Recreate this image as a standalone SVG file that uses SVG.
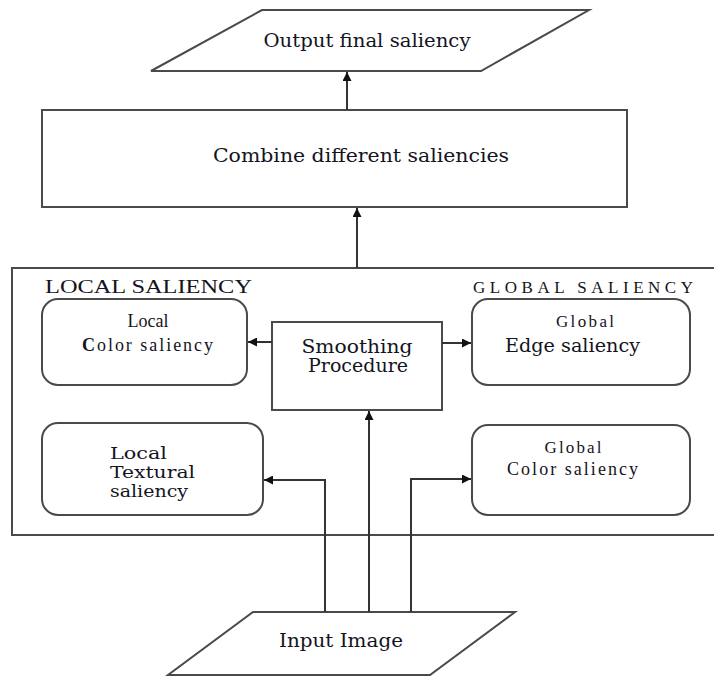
<svg xmlns="http://www.w3.org/2000/svg" width="714" height="677" viewBox="0 0 714 677">
<defs>
<style>
.s{fill:#fff;stroke:#4a4a4a;stroke-width:2}
.c{fill:none;stroke:#333;stroke-width:2}
.t{font-family:"Liberation Serif","Times New Roman",serif;fill:#14141e}
.w{font-family:"DejaVu Serif","Liberation Serif",serif;fill:#14141e}
</style>
<marker id="ah" viewBox="0 0 10 10" refX="10" refY="5" markerWidth="9" markerHeight="9" markerUnits="userSpaceOnUse" orient="auto">
<path d="M0,0 L10,5 L0,10 z" fill="#111"/>
</marker>
</defs>
<rect width="714" height="677" fill="#fff"/>
<g id="output">
<polygon class="s" points="262,10 589,10 481,71 151,71"/>
<text class="w" x="367" y="47" font-size="19" text-anchor="middle" textLength="207" lengthAdjust="spacingAndGlyphs">Output final saliency</text>
</g>
<g id="combine">
<rect class="s" x="42" y="110" width="585" height="97"/>
<text class="w" x="361" y="162" font-size="19" text-anchor="middle" textLength="296" lengthAdjust="spacingAndGlyphs">Combine different saliencies</text>
</g>
<g id="saliency-panel">
<rect class="s" x="12" y="268" width="720" height="267"/>
<text class="t" x="45" y="293" font-size="19" textLength="207" lengthAdjust="spacingAndGlyphs">LOCAL SALIENCY</text>
<text class="t" x="473" y="293" font-size="17" textLength="220" lengthAdjust="spacing">GLOBAL  SALIENCY</text>
</g>
<g id="local-color">
<rect class="s" x="42" y="299" width="205" height="86" rx="16"/>
<text class="t" x="148" y="327" font-size="18" text-anchor="middle">Local</text>
<text class="t" x="82" y="351" font-size="18" textLength="131" lengthAdjust="spacing"><tspan font-weight="bold">C</tspan>olor  saliency</text>
</g>
<g id="smoothing">
<rect class="s" x="272" y="322" width="170" height="88"/>
<text class="w" x="357" y="353" font-size="18" text-anchor="middle" textLength="111" lengthAdjust="spacingAndGlyphs">Smoothing</text>
<text class="w" x="358" y="372" font-size="18" text-anchor="middle" textLength="100" lengthAdjust="spacingAndGlyphs">Procedure</text>
</g>
<g id="global-edge">
<rect class="s" x="472" y="299" width="218" height="86" rx="16"/>
<text class="t" x="585" y="327" font-size="17" text-anchor="middle" textLength="58" lengthAdjust="spacing">Global</text>
<text class="w" x="505" y="352" font-size="19" textLength="135" lengthAdjust="spacingAndGlyphs">Edge saliency</text>
</g>
<g id="local-textural">
<rect class="s" x="42" y="423" width="221" height="92" rx="16"/>
<text class="w" x="110" y="459" font-size="16" textLength="57" lengthAdjust="spacingAndGlyphs">Local</text>
<text class="w" x="110" y="478" font-size="16" textLength="85" lengthAdjust="spacingAndGlyphs">Textural</text>
<text class="w" x="110" y="497" font-size="16" textLength="78" lengthAdjust="spacingAndGlyphs">saliency</text>
</g>
<g id="global-color">
<rect class="s" x="472" y="425" width="218" height="90" rx="16"/>
<text class="t" x="573" y="453" font-size="17" text-anchor="middle" textLength="57" lengthAdjust="spacing">Global</text>
<text class="t" x="507" y="475" font-size="18" textLength="131" lengthAdjust="spacing">Color  saliency</text>
</g>
<g id="input">
<polygon class="s" points="253,612 515,612 430,675 168,675"/>
<text class="w" x="341" y="647" font-size="19" text-anchor="middle" textLength="124" lengthAdjust="spacingAndGlyphs">Input Image</text>
</g>
<g id="connectors">
<line class="c" x1="347" y1="110" x2="347" y2="72" marker-end="url(#ah)"/>
<line class="c" x1="357" y1="268" x2="357" y2="208" marker-end="url(#ah)"/>
<line class="c" x1="272" y1="342" x2="248" y2="342" marker-end="url(#ah)"/>
<line class="c" x1="442" y1="343" x2="471" y2="343" marker-end="url(#ah)"/>
<line class="c" x1="369" y1="612" x2="369" y2="411" marker-end="url(#ah)"/>
<polyline class="c" points="325,612 325,480 264,480" marker-end="url(#ah)"/>
<polyline class="c" points="411,612 411,479 471,479" marker-end="url(#ah)"/>
</g>
</svg>
